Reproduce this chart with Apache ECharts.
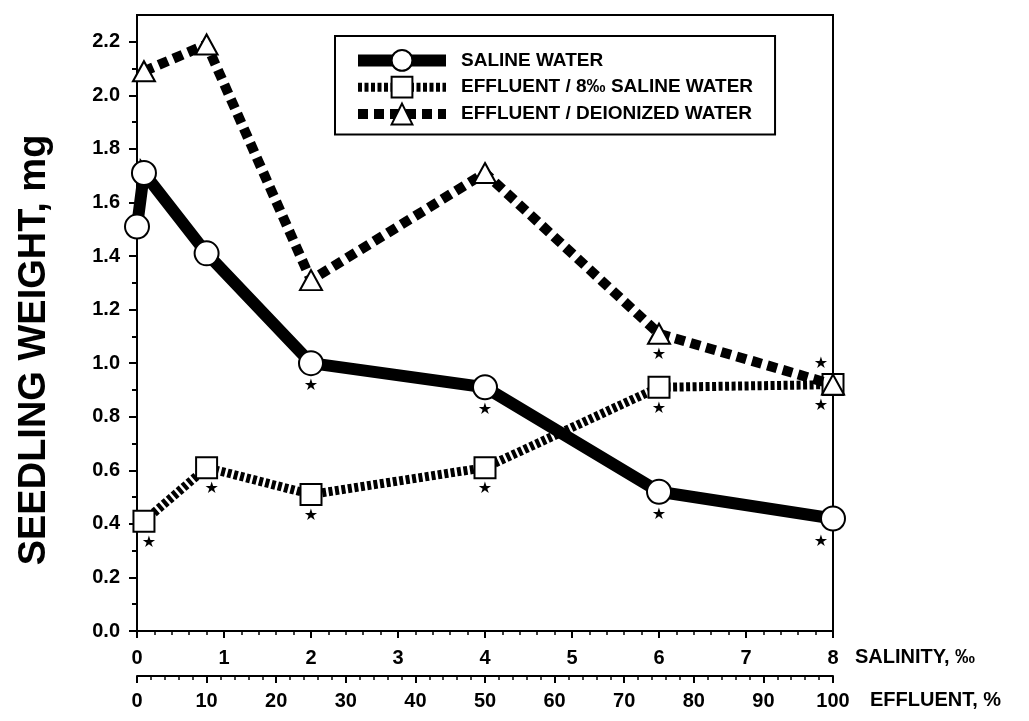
<!DOCTYPE html>
<html>
<head>
<meta charset="utf-8">
<script src="https://cdn.jsdelivr.net/npm/echarts@6/dist/echarts.min.js"></script>
<style>
html,body{margin:0;padding:0;background:#fff;}
#chart{width:1029px;height:721px;}
</style>
</head>
<body>
<div id="chart"></div>
<script>
// ---- data ----
const salinityTicks = [0, 1, 2, 3, 4, 5, 6, 7, 8];            // salinity, ‰
const effluentTicks = [0, 10, 20, 30, 40, 50, 60, 70, 80, 90, 100]; // effluent, %
const weightTicks = [0, 0.2, 0.4, 0.6, 0.8, 1.0, 1.2, 1.4, 1.6, 1.8, 2.0, 2.2];

const xSaline = [0, 0.08, 0.8, 2, 4, 6, 8];            // salinity ‰
const salineWater = [1.51, 1.71, 1.41, 1.00, 0.91, 0.52, 0.42];
const sigSaline = [0, 0, 0, 1, 1, 1, 1];

const xEffluent = [0.08, 0.8, 2, 4, 6, 8];             // salinity ‰ scale (1,10,25,50,75,100 % effluent)
const effluentSaline = [0.41, 0.61, 0.51, 0.61, 0.91, 0.92];
const sigEffluentSaline = [1, 1, 1, 1, 1, 1];
const effluentDeionized = [2.09, 2.19, 1.31, 1.71, 1.11, 0.92];
const sigEffluentDeionized = [0, 0, 0, 0, 1, 1];

const names = ['SALINE WATER', 'EFFLUENT / 8\u2030 SALINE WATER', 'EFFLUENT / DEIONIZED WATER'];

// ---- build ----
const FONT = "'Liberation Sans', Arial, Helvetica, sans-serif";
const minorWeight = weightTicks.slice(0, -1).map((v, i) => +((v + weightTicks[i + 1]) / 2).toFixed(2));

function starData(xs, ys, sig, lastAbove) {
  return xs.map((x, i) => {
    const n = xs.length;
    let dx = 0;
    if (i === n - 1) dx = -12;
    else if (x < 1) dx = 5;
    const above = lastAbove && i === n - 1;
    return {
      value: [x, ys[i]],
      label: {
        show: sig[i] === 1,
        position: above ? 'top' : 'bottom',
        distance: 2,
        offset: [dx, 0]
      }
    };
  });
}

const starLabel = {
  formatter: '\u2605',
  color: '#000',
  fontSize: 16,
  fontFamily: "'DejaVu Sans', sans-serif"
};

const chart = echarts.init(document.getElementById('chart'), null, {renderer: 'canvas'});

const option = {
  backgroundColor: '#fff',
  animation: false,
  grid: {
    left: 137, right: 196, top: 15, bottom: 90,
    show: true, borderColor: '#000', borderWidth: 2, backgroundColor: 'transparent'
  },
  legend: {
    data: [
      {name: names[0], lineStyle: {width: 12}},
      {name: names[1], lineStyle: {width: 9}},
      {name: names[2], lineStyle: {width: 10}}
    ],
    orient: 'vertical',
    left: 335, top: 36,
    padding: [13, 22, 9, 17],
    itemWidth: 88, itemHeight: 26, itemGap: 4,
    borderColor: '#000', borderWidth: 2,
    textStyle: {fontFamily: FONT, fontWeight: 'bold', fontSize: 19, color: '#000', padding: [0, 0, 0, 10]}
  },
  xAxis: [
    {
      type: 'value', min: 0, max: 8, interval: 1, position: 'bottom',
      axisLine: {show: true, onZero: false, lineStyle: {color: '#000', width: 2}},
      axisTick: {show: true, inside: false, length: 7, lineStyle: {color: '#000', width: 2}},
      minorTick: {show: true, splitNumber: 5, length: 4, lineStyle: {color: '#000', width: 1.5}},
      splitLine: {show: false},
      axisLabel: {
        margin: 17, color: '#000', fontFamily: FONT, fontWeight: 'bold', fontSize: 20,
        customValues: salinityTicks
      }
    },
    {
      type: 'value', min: 0, max: 100, interval: 10, position: 'bottom', offset: 45,
      axisLine: {show: true, onZero: false, lineStyle: {color: '#000', width: 2}},
      axisTick: {show: true, inside: false, length: 7, lineStyle: {color: '#000', width: 2}},
      minorTick: {show: true, splitNumber: 5, length: 4, lineStyle: {color: '#000', width: 1.5}},
      splitLine: {show: false},
      axisLabel: {
        margin: 15, color: '#000', fontFamily: FONT, fontWeight: 'bold', fontSize: 20,
        customValues: effluentTicks
      }
    }
  ],
  yAxis: [
    {
      type: 'value', min: 0, max: 2.3, position: 'left',
      axisLine: {show: true, onZero: false, lineStyle: {color: '#000', width: 2}},
      axisTick: {show: true, length: 8, lineStyle: {color: '#000', width: 2}, customValues: weightTicks},
      splitLine: {show: false},
      axisLabel: {
        margin: 17, color: '#000', fontFamily: FONT, fontWeight: 'bold', fontSize: 20,
        customValues: weightTicks,
        formatter: v => v.toFixed(1)
      }
    },
    {
      type: 'value', min: 0, max: 2.3, position: 'left',
      axisLine: {show: false},
      axisTick: {show: true, length: 5, lineStyle: {color: '#000', width: 2}, customValues: minorWeight},
      splitLine: {show: false},
      axisLabel: {show: false, customValues: minorWeight}
    }
  ],
  graphic: [
    {
      type: 'text',
      x: 35, y: 350, rotation: Math.PI / 2,
      style: {
        text: 'SEEDLING WEIGHT, mg', fill: '#000',
        font: "bold 38px " + FONT,
        textAlign: 'center', textVerticalAlign: 'middle'
      }
    },
    {
      type: 'text', x: 855, y: 657,
      style: {text: 'SALINITY, \u2030', fill: '#000', font: "bold 20px " + FONT, textAlign: 'left', textVerticalAlign: 'middle'}
    },
    {
      type: 'text', x: 870, y: 700,
      style: {text: 'EFFLUENT, %', fill: '#000', font: "bold 20px " + FONT, textAlign: 'left', textVerticalAlign: 'middle'}
    }
  ],
  series: [
    {
      name: names[0], type: 'line', xAxisIndex: 0, yAxisIndex: 0,
      data: starData(xSaline, salineWater, sigSaline, false),
      symbol: 'circle', symbolSize: 24,
      lineStyle: {color: '#000', width: 12, type: 'solid', cap: 'butt', join: 'miter'},
      itemStyle: {color: '#fff', borderColor: '#000', borderWidth: 2},
      label: starLabel,
      z: 3
    },
    {
      name: names[1], type: 'line', xAxisIndex: 0, yAxisIndex: 0,
      data: starData(xEffluent, effluentSaline, sigEffluentSaline, false),
      symbol: 'rect', symbolSize: 21,
      lineStyle: {color: '#000', width: 9, type: [4, 2.5], cap: 'butt'},
      itemStyle: {color: '#fff', borderColor: '#000', borderWidth: 2},
      label: starLabel,
      z: 4
    },
    {
      name: names[2], type: 'line', xAxisIndex: 0, yAxisIndex: 0,
      data: starData(xEffluent, effluentDeionized, sigEffluentDeionized, true),
      symbol: 'triangle', symbolSize: [22, 20],
      lineStyle: {color: '#000', width: 10, type: [10, 6], cap: 'butt'},
      itemStyle: {color: '#fff', borderColor: '#000', borderWidth: 2},
      label: starLabel,
      z: 5
    }
  ]
};

chart.setOption(option);
</script>
</body>
</html>
